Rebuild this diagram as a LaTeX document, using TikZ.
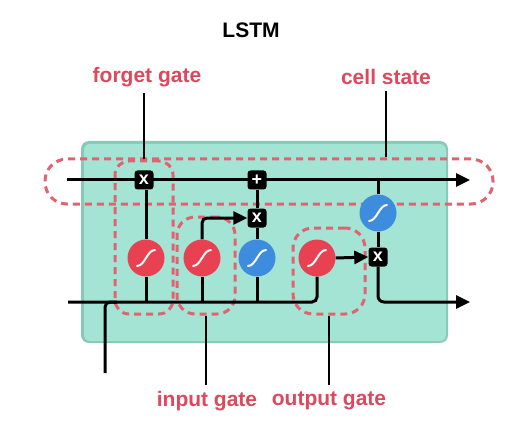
\documentclass[tikz,border=0pt]{standalone}
\usepackage{fontspec}
\setmainfont{Liberation Sans}
\usetikzlibrary{arrows.meta}
\definecolor{cellfill}{RGB}{163,228,212}
\definecolor{cellborder}{RGB}{135,200,182}
\definecolor{gred}{RGB}{232,65,82}
\definecolor{gblue}{RGB}{62,140,222}
\definecolor{lblred}{RGB}{220,72,92}
\definecolor{dashred}{RGB}{226,98,112}
\pgfdeclarelayer{back}
\pgfdeclarelayer{mid}
\pgfsetlayers{back,mid,main}
\tikzset{
  sig/.style={circle, fill=#1, minimum size=37pt, inner sep=0pt,
    path picture={\draw[white, line width=2pt, line cap=round]
      ([shift={(-9pt,-8pt)}]path picture bounding box.center)
      .. controls ([shift={(-1pt,-8pt)}]path picture bounding box.center)
      and ([shift={(1pt,8pt)}]path picture bounding box.center)
      .. ([shift={(9pt,8pt)}]path picture bounding box.center);}},
  opbox/.style={fill=black, rounded corners=3pt, minimum size=19pt, inner sep=0pt,
    text=white, font=\bfseries\fontsize{18}{18}\selectfont},
  wire/.style={line width=3pt, black},
  arr/.style={wire, -{Triangle[length=14pt,width=13pt]}},
  dashbox/.style={draw=dashred, line width=3pt, dash pattern=on 7pt off 5pt, inner sep=0pt},
  lbl/.style={text=lblred, font=\bfseries\fontsize{21}{24}\selectfont},
  lblline/.style={line width=1.4pt, black},
}
\begin{document}
\begin{tikzpicture}[x=1pt,y=-1pt]
\useasboundingbox (0,0) rectangle (517,433);

% title and labels
\node[font=\bfseries\fontsize{21}{24}\selectfont] (title) at (251,30) {LSTM};
\node[lbl] (fgl) at (147,77) {forget gate};
\node[lbl] (csl) at (386,77) {cell state};
\node[lbl] (igl) at (207,401) {input gate};
\node[lbl] (ogl) at (329,401) {output gate};

% operations
\node[opbox] (fx) at (144,180) {x};
\node[opbox] (px) at (257,180) {+};
\node[opbox] (ix) at (257,218) {x};
\node[opbox] (ox) at (378,257) {x};

% gates
\node[sig=gred]  (fg) at (146,258) {};
\node[sig=gred]  (ig) at (202,258) {};
\node[sig=gblue] (cg) at (257,258) {};
\node[sig=gred]  (og) at (317,258) {};
\node[sig=gblue] (th) at (378,213) {};

% coordinates for free ends
\coordinate (cin) at (67,180);
\coordinate (cout) at (470,180);
\coordinate (hin) at (68,302);
\coordinate (hout) at (470,302);
\coordinate (xin) at (105,373);
\coordinate (tap) at (378,180);

\begin{pgfonlayer}{back}
  \fill[cellborder, rounded corners=8pt] (81,141) rectangle (448,343);
  \fill[cellfill, rounded corners=6pt] (84,144) rectangle (446,341);
  \node[dashbox, rounded corners=22pt, minimum width=448pt, minimum height=45pt] (cdash) at (269,181.5) {};
  \node[dashbox, rounded corners=14pt, minimum width=58pt, minimum height=153pt] (fdash) at (144,237.5) {};
  \node[dashbox, rounded corners=18pt, minimum width=58pt, minimum height=97pt] (idash) at (206,265.5) {};
  \node[dashbox, rounded corners=20pt, minimum width=72pt, minimum height=86pt] (odash) at (329,271) {};
\end{pgfonlayer}

\begin{pgfonlayer}{mid}
  % label lines
  \draw[lblline] (fdash.north) -- ([yshift=-3pt]fdash.north |- fgl.south);
  \draw[lblline] (csl.south |- cdash.north) -- ([yshift=-3pt]csl.south);
  \draw[lblline] (idash.south) -- ([yshift=3pt]idash.south |- igl.north);
  \draw[lblline] (odash.south) -- ([yshift=3pt]odash.south |- ogl.north);
  % cell state
  \draw[arr] (cin) -- (cout);
  % hidden / input line
  \draw[wire, rounded corners=5pt] (hin) -| (og.south);
  \draw[wire, rounded corners=5pt] (xin) |- ([xshift=12pt]xin |- hin);
  % forget gate
  \draw[wire] (fg |- hin) -- (fg.south);
  \draw[wire] (fg.north) -- (fg.north |- fx.south);
  % input gate
  \draw[wire] (ig |- hin) -- (ig.south);
  \draw[arr, rounded corners=5pt] (ig.north) |- (ix.west);
  % candidate
  \draw[wire] (cg |- hin) -- (cg.south);
  \draw[wire] (cg.north) -- (ix.south);
  \draw[wire] (ix.north) -- (px.south);
  % output
  \draw[arr] (og.east) -- (ox.west);
  \draw[wire] (tap) -- (th.north);
  \draw[wire] (th.south) -- (ox.north);
  \draw[arr, rounded corners=6pt] (ox.south) |- (hout);
\end{pgfonlayer}
\end{tikzpicture}
\end{document}
